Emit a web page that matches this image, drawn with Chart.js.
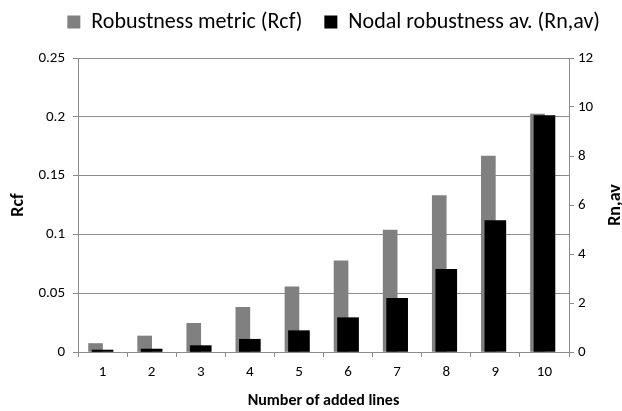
<!DOCTYPE html>
<html>
<head>
<meta charset="utf-8">
<script src="https://cdn.jsdelivr.net/npm/chart.js@4/dist/chart.umd.min.js"></script>
<style>
  html, body { margin: 0; padding: 0; background: #fff; }
  #wrap { width: 622px; height: 411px; }
</style>
</head>
<body>
<div id="wrap"><canvas id="chart" width="622" height="411"></canvas></div>
<script>
'use strict';

let categories = ['1', '2', '3', '4', '5', '6', '7', '8', '9', '10'];
let rcfValues = [0.0072, 0.0136, 0.0244, 0.038, 0.0555, 0.0776, 0.1037, 0.133, 0.1667, 0.2024];
let rnavValues = [0.08, 0.12, 0.26, 0.52, 0.87, 1.40, 2.19, 3.37, 5.36, 9.65];
let spacerValues = [null, null, null, null, null, null, null, null, null, null];
let rcfTicks = ['0', '0.05', '0.1', '0.15', '0.2', '0.25'];
let rnavTicks = ['0', '2', '4', '6', '8', '10', '12'];

let fontName = "Carlito, Lato, 'Open Sans', sans-serif";
let gridColor = '#8c8c8c';

// right title reads bottom-to-top like the left one
const rightTitle = {
    id: 'rightTitle',
    afterInit(chart) {
        // fix the legend band so the plot starts where the reference does
        let legend = chart.legend;
        let fit = legend.fit;
        legend.fit = function () {
            fit.call(this);
            this.height = 69;
        };
    },
    afterDraw(chart) {
        let ctx = chart.ctx;
        let area = chart.chartArea;
        ctx.save();
        ctx.translate(chart.scales.y1.right - 7, (area.top + area.bottom) / 2);
        ctx.rotate(-Math.PI / 2);
        ctx.font = 'bold 18px ' + fontName;
        ctx.fillStyle = '#000';
        ctx.textAlign = 'center';
        ctx.textBaseline = 'middle';
        ctx.fillText('Rn,av', 0, 0);
        ctx.restore();
    }
};

let chartObj = document.getElementById('chart').getContext('2d');

let chart = new Chart(chartObj, {
    type: 'bar',
    data: {
        labels: categories,
        datasets: [{
            label: 'Robustness metric (Rcf)',
            data: rcfValues,
            backgroundColor: 'rgb(128, 128, 128)',
            yAxisID: 'y',
            barThickness: 14,
            order: 1
        }, {
            label: '',
            data: spacerValues,
            backgroundColor: 'rgba(0, 0, 0, 0)',
            yAxisID: 'y',
            barThickness: 14,
            order: 2
        }, {
            label: 'Nodal robustness av. (Rn,av)',
            data: rnavValues,
            backgroundColor: '#000',
            yAxisID: 'y1',
            grouped: false,
            categoryPercentage: 1,
            barPercentage: 1,
            maxBarThickness: 21,
            order: 0
        }]
    },
    options: {
        responsive: false,
        animation: false,
        layout: { padding: { top: -11, right: 0, left: 0, bottom: 0 } },
        plugins: {
            tooltip: { enabled: false },
            legend: {
                position: 'top',
                align: 'end',
                labels: {
                    boxWidth: 13,
                    boxHeight: 13,
                    padding: 22,
                    color: '#000',
                    font: { family: fontName, size: 22 },
                    filter: item => item.text !== '',
                    sort: (a, b) => a.datasetIndex - b.datasetIndex
                }
            }
        },
        scales: {
            x: {
                type: 'category',
                offset: true,
                grid: { offset: true, drawOnChartArea: false, drawTicks: true, tickLength: 5, color: gridColor },
                border: { color: gridColor },
                ticks: { color: '#000', padding: 6, font: { family: fontName, size: 15 } },
                title: {
                    display: true,
                    text: 'Number of added lines',
                    color: '#000',
                    padding: { top: 3, bottom: 0 },
                    font: { family: fontName, size: 16, weight: 'bold' }
                },
                afterFit: scale => { scale.height = 59; }
            },
            y: {
                position: 'left',
                min: 0,
                max: 0.25,
                ticks: {
                    stepSize: 0.05,
                    color: '#000',
                    padding: 8,
                    font: { family: fontName, size: 15 },
                    callback: (v, i) => rcfTicks[i]
                },
                grid: { color: gridColor, tickLength: 5 },
                border: { color: gridColor },
                title: {
                    display: true,
                    text: 'Rcf',
                    color: '#000',
                    padding: { top: 8, bottom: 0 },
                    font: { family: fontName, size: 18, weight: 'bold' }
                },
                afterFit: scale => { scale.width = 78; }
            },
            y1: {
                position: 'right',
                min: 0,
                max: 12,
                ticks: {
                    stepSize: 2,
                    color: '#000',
                    padding: 4,
                    font: { family: fontName, size: 15 },
                    callback: (v, i) => rnavTicks[i]
                },
                grid: { drawOnChartArea: false, color: gridColor, tickLength: 5 },
                border: { color: gridColor },
                afterFit: scale => { scale.width = 53; }
            }
        }
    },
    plugins: [rightTitle]
});
</script>
</body>
</html>
